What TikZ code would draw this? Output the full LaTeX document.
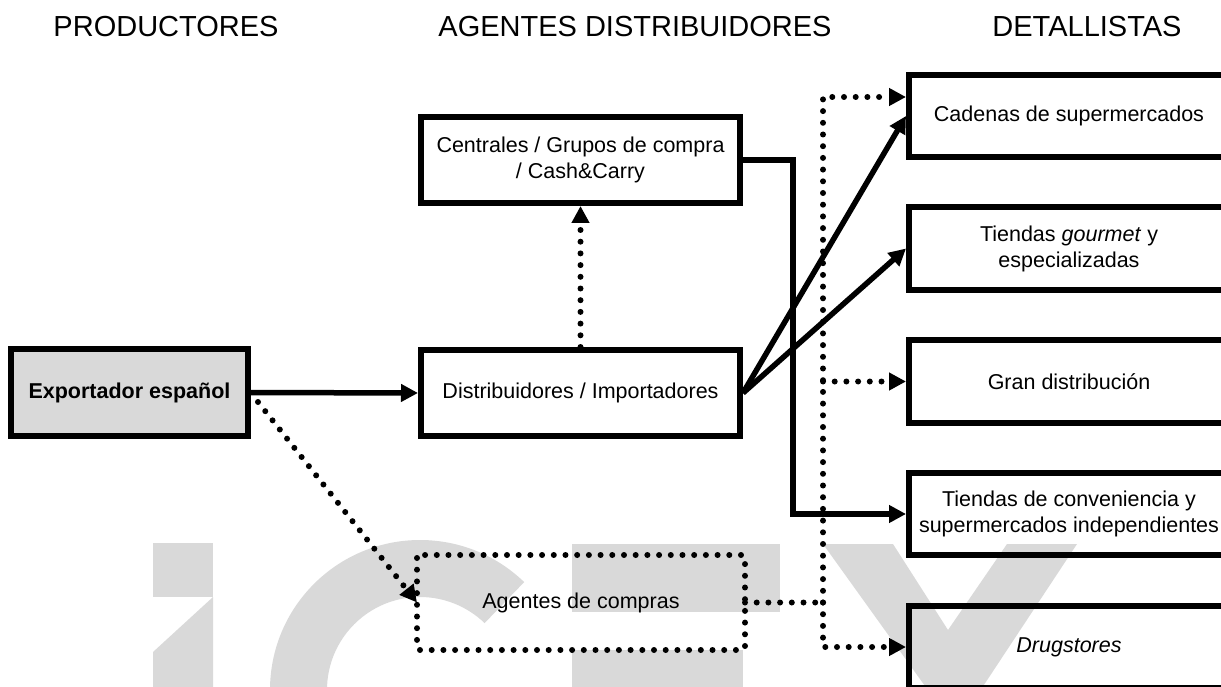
\documentclass[tikz,border=0pt]{standalone}
\usepackage{fontspec}
\setmainfont{Liberation Sans}
\usetikzlibrary{arrows.meta}
\definecolor{wm}{RGB}{217,217,217}
\definecolor{expfill}{RGB}{217,217,217}
\begin{document}
\begin{tikzpicture}[x=1pt,y=-1pt,
  box/.style={draw, line width=6pt, inner sep=0pt, align=center,
    font=\fontsize{21.5}{26}\selectfont},
  hdr/.style={font=\fontsize{29}{34}\selectfont, inner sep=0pt},
  sol/.style={line width=5.5pt, -{Triangle[length=17pt,width=17pt]}},
  dotl/.style={line width=6pt, line cap=round, dash pattern=on 0pt off 11.7pt},
  dota/.style={dotl, -{Triangle[length=17pt,width=17pt]}},
]
\useasboundingbox (0,0) rectangle (1221,687);
\clip (0,0) rectangle (1221,687);
% watermark
\fill[wm] (153,543) rectangle (213,597);
\fill[wm] (213,597) -- (213,700) -- (153,700) -- (153,652) -- cycle;
\fill[wm] (420,690) ++(-46:150) arc[start angle=-46, end angle=-270, radius=150]
  -- ++(0,-57) arc[start angle=-270, end angle=-46, radius=93] -- cycle;
\fill[wm] (572,544) rectangle (780,612);
\fill[wm] (572,650) rectangle (743,700);
\fill[wm] (823,544) -- (893,544) -- (948,630) -- (1007,544) -- (1077,544)
  -- (974,700) -- (935,700) -- cycle;
% headers
\node[hdr] (h1) at (166,27) {PRODUCTORES};
\node[hdr] (h2) at (635,27) {AGENTES DISTRIBUIDORES};
\node[hdr] (h3) at (1087,27) {DETALLISTAS};
% boxes
\node[box, fill=expfill, minimum width=237pt, minimum height=87pt] (exp) at (129.5,392.5) {\textbf{Exportador español}};
\node[box, minimum width=319pt, minimum height=86pt] (dist) at (580.5,393) {Distribuidores / Importadores};
\node[box, minimum width=319pt, minimum height=86pt] (cent) at (580.5,160) {Centrales / Grupos de compra\\/ Cash\&Carry};
\node[box, draw=none, minimum width=322pt, minimum height=89pt] (agt) at (581,602.5) {Agentes de compras};
\draw[dotl, rounded corners=3pt] (agt.north west) rectangle (agt.south east);
\node[box, minimum width=320pt, minimum height=82pt] (cad) at (1069,116) {Cadenas de supermercados};
\node[box, minimum width=320pt, minimum height=83pt] (gou) at (1069,248.5) {Tiendas \textit{gourmet} y\\especializadas};
\node[box, minimum width=320pt, minimum height=83pt] (gran) at (1069,381.5) {Gran distribución};
\node[box, minimum width=320pt, minimum height=82pt] (conv) at (1069,514) {Tiendas de conveniencia y\\supermercados independientes};
\node[box, minimum width=320pt, minimum height=82pt] (drug) at (1069,647) {\textit{Drugstores}};
% connectors
\coordinate (c1) at (793,160);
\coordinate (j) at (823,602.5);
\draw[sol] (exp.east) -- (dist.west);
\draw[dota] ([xshift=7pt,yshift=-9.5pt]exp.east) -- (agt.west);
\draw[dota] (dist.north) -- (cent.south);
\draw[sol] (cent.east) -- (c1) |- (conv.west);
\draw[sol] (dist.east) -- (cad.west);
\draw[sol] (dist.east) -- (gou.west);
\draw[dotl] (agt.east) -- (j);
\draw[dota] (j) |- ([yshift=19pt]cad.west);
\draw[dota] (j) |- (drug.west);
\draw[dota] (j |- gran.west) -- (gran.west);
\end{tikzpicture}
\end{document}
